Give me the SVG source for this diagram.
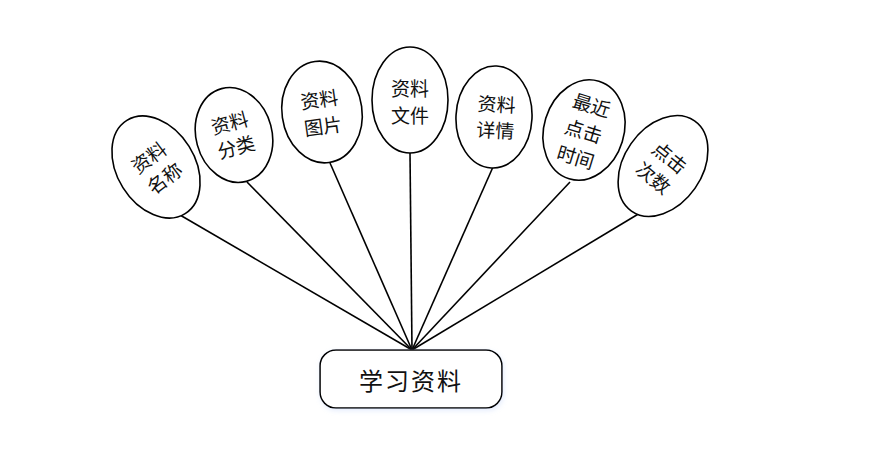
<svg xmlns="http://www.w3.org/2000/svg" width="886" height="467" viewBox="0 0 886 467">
<style>
.n{fill:#fff;stroke:#000;stroke-width:1.6}
.t{font-family:"Noto Sans CJK SC","Noto Sans",sans-serif;font-size:19px;fill:#111;text-anchor:middle;dominant-baseline:central}
.c line{stroke:#000;stroke-width:1.6}
</style>
<defs>
<filter id="sh" x="-10%" y="-20%" width="120%" height="140%">
<feGaussianBlur in="SourceAlpha" stdDeviation="2.5"/>
<feColorMatrix values="0 0 0 0 0.6  0 0 0 0 0.7  0 0 0 0 0.95  0 0 0 0.5 0"/>
<feOffset dx="1" dy="2"/>
<feMerge><feMergeNode/><feMergeNode in="SourceGraphic"/></feMerge>
</filter>
</defs>
<rect width="886" height="467" fill="#fff"/>
<g id="connectors" class="c">
<line x1="180" y1="215" x2="412" y2="350"/>
<line x1="247" y1="182" x2="412" y2="350"/>
<line x1="330" y1="163" x2="412" y2="350"/>
<line x1="410" y1="153" x2="412" y2="350"/>
<line x1="493" y1="167" x2="412" y2="350"/>
<line x1="570" y1="182" x2="412" y2="350"/>
<line x1="640" y1="213" x2="412" y2="350"/>
</g>
<g id="n1" transform="rotate(-32 156 167)">
<ellipse class="n" cx="156" cy="167" rx="39" ry="55"/>
<g transform="rotate(-5 156 167)"><text class="t" x="156" y="154">资料</text><text class="t" x="156" y="180">名称</text></g>
</g>
<g id="n2" transform="rotate(-15 234 135)">
<ellipse class="n" cx="234" cy="135" rx="38" ry="48"/>
<text class="t" x="233" y="121">资料</text><text class="t" x="233" y="146">分类</text>
</g>
<g id="n3" transform="rotate(-8 322 112)">
<ellipse class="n" cx="322" cy="112" rx="40" ry="51"/>
<text class="t" x="321" y="98">资料</text><text class="t" x="321" y="125">图片</text>
</g>
<g id="n4">
<ellipse class="n" cx="410" cy="100" rx="38" ry="53"/>
<text class="t" x="410" y="87">资料</text><text class="t" x="410" y="114">文件</text>
</g>
<g id="n5" transform="rotate(3 494 117)">
<ellipse class="n" cx="494" cy="117" rx="38" ry="51"/>
<text class="t" x="496" y="103">资料</text><text class="t" x="496" y="129">详情</text>
</g>
<g id="n6" transform="rotate(17 584 130)">
<ellipse class="n" cx="584" cy="130" rx="40" ry="51"/>
<text class="t" x="584" y="103">最近</text><text class="t" x="584" y="130">点击</text><text class="t" x="584" y="157">时间</text>
</g>
<g id="n7" transform="rotate(35 663 166)">
<ellipse class="n" cx="663" cy="166" rx="39" ry="55"/>
<g transform="rotate(4 663 166)"><text class="t" x="663" y="154">点击</text><text class="t" x="663" y="180">次数</text></g>
</g>
<g id="root">
<rect class="n" x="320" y="350" width="182" height="58" rx="16" filter="url(#sh)"/>
<text class="t" x="411" y="379" style="font-size:24px;letter-spacing:2px">学习资料</text>
</g>
</svg>
